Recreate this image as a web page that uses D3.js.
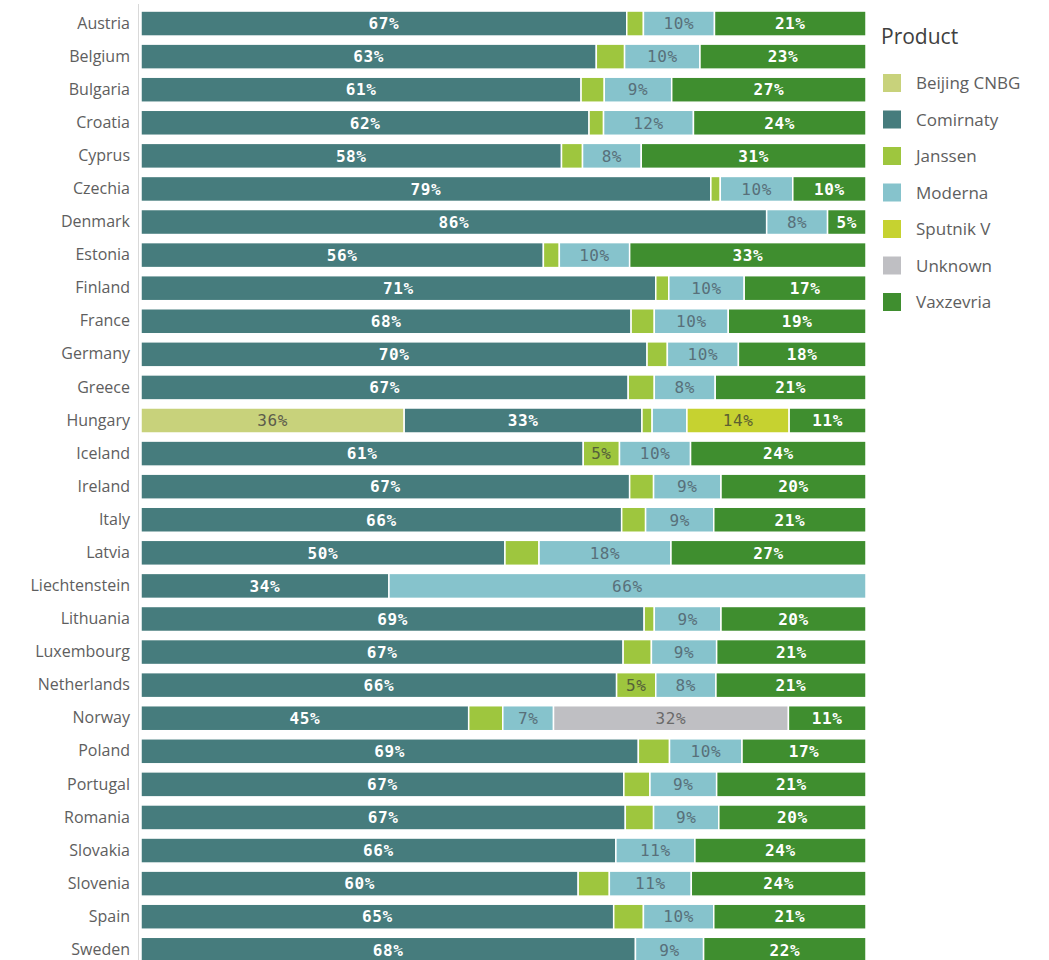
<!DOCTYPE html>
<html><head><meta charset="utf-8">
<script src="https://cdn.jsdelivr.net/npm/d3@7"></script>
<style>body{margin:0;background:#fff;}svg{display:block;}</style>
</head><body><svg id="chart" width="1049" height="960"></svg>
<script>
const countries = ["Austria","Belgium","Bulgaria","Croatia","Cyprus","Czechia","Denmark","Estonia","Finland","France","Germany","Greece","Hungary","Iceland","Ireland","Italy","Latvia","Liechtenstein","Lithuania","Luxembourg","Netherlands","Norway","Poland","Portugal","Romania","Slovakia","Slovenia","Spain","Sweden"];
const products = ["Beijing CNBG","Comirnaty","Janssen","Moderna","Sputnik V","Unknown","Vaxzevria"];
const colors = ["#c8d27b","#467c7d","#9ec63e","#86c3cc","#c6d230","#bfbfc3","#3f8e2f"];
const labelColors = ["#5c5c4c","#ffffff","#55603a","#58707a","#5c6030","#6a6a6a","#ffffff"];
// shares (%) per product, in country order
const beijing    = [0,0,0,0,0,0,0,0,0,0,0,0,36.3,0,0,0,0,0,0,0,0,0,0,0,0,0,0,0,0];
const comirnaty  = [67.0,62.8,60.7,61.8,58.0,78.6,86.3,55.5,71.0,67.6,69.8,67.2,32.8,61.0,67.4,66.3,50.2,34.2,69.4,66.5,65.6,45.2,68.6,66.6,66.8,65.5,60.3,65.2,68.2];
const janssen    = [2.3,3.9,3.2,2.0,2.9,1.3,0,2.2,1.8,3.2,2.8,3.6,1.4,5.0,3.3,3.3,4.7,0,1.4,3.9,5.4,4.7,4.3,3.6,3.9,0,4.3,4.1,0];
const moderna    = [9.8,10.4,9.3,12.4,8.1,10.0,8.4,9.7,10.4,10.2,9.8,8.4,4.8,9.8,9.3,9.4,18.2,65.8,9.2,9.0,8.3,7.0,10.0,9.2,9.0,10.9,11.3,9.7,9.4];
const sputnik    = [0,0,0,0,0,0,0,0,0,0,0,0,14.1,0,0,0,0,0,0,0,0,0,0,0,0,0,0,0,0];
const unknown    = [0,0,0,0,0,0,0,0,0,0,0,0,0,0,0,0,0,0,0,0,0,32.4,0,0,0,0,0,0,0];
const vaxzevria  = [20.9,22.9,26.8,23.8,31.0,10.1,5.3,32.6,16.8,19.0,17.6,20.8,10.6,24.2,20.0,21.0,26.9,0,20.0,20.6,20.7,10.7,17.1,20.6,20.3,23.6,24.1,21.0,22.4];
const series = [beijing,comirnaty,janssen,moderna,sputnik,unknown,vaxzevria];

const svg = d3.select("#chart");
const x = d3.scaleLinear().domain([0,100]).range([141,866]);
const y = d3.scaleBand().domain(countries).range([7.0, 7.0+29*33.08]).paddingInner(0.244).paddingOuter(0.122);

const rows = countries.map((c,i)=>{const r={country:c}; products.forEach((p,j)=>r[p]=series[j][i]); return r;});
const stack = d3.stack().keys(products)(rows);

// axis line
svg.append("line").attr("x1",138.5).attr("x2",138.5).attr("y1",4).attr("y2",960)
  .attr("stroke","#d9d9d9").attr("stroke-width",1);

const g = svg.append("g");
stack.forEach((layer,j)=>{
  const lg = g.append("g");
  layer.forEach(d=>{
    const w = x(d[1])-x(d[0]);
    if (w<=0) return;
    lg.append("rect").attr("x",x(d[0])).attr("y",y(d.data.country))
      .attr("width",w).attr("height",y.bandwidth())
      .attr("fill",colors[j]).attr("stroke","#fff").attr("stroke-width",1.5);
    const v = d[1]-d[0];
    if (v>=4.95){
      lg.append("text").attr("x",(x(d[0])+x(d[1]))/2).attr("y",y(d.data.country)+y.bandwidth()/2)
        .attr("dy","0.36em").attr("text-anchor","middle")
        .attr("font-family","DejaVu Sans Mono").attr("font-size",16)
        .attr("font-weight", labelColors[j]==="#ffffff"?"bold":"normal")
        .attr("letter-spacing",0.6)
        .attr("fill",labelColors[j]).text(Math.round(v)+"%");
    }
  });
});

// y axis labels
const yAxis = d3.axisLeft(y).tickSize(0).tickPadding(8);
const ya = svg.append("g").attr("transform","translate(138,0)").call(yAxis);
ya.select(".domain").remove();
ya.selectAll("text").attr("font-family","Open Sans").attr("font-size",16).attr("fill","#5e5e5e");

// legend
const leg = svg.append("g");
leg.append("text").attr("x",881).attr("y",44).attr("font-family","Open Sans").attr("font-size",21).attr("fill","#404040").text("Product");
products.forEach((p,j)=>{
  const cy = 83 + j*36.5;
  leg.append("rect").attr("x",883).attr("y",cy-9).attr("width",18).attr("height",18).attr("fill",colors[j]);
  leg.append("text").attr("x",916).attr("y",cy).attr("dy","0.36em").attr("font-family","Open Sans").attr("font-size",17).attr("fill","#5e5e5e").text(p);
});
</script></body></html>
